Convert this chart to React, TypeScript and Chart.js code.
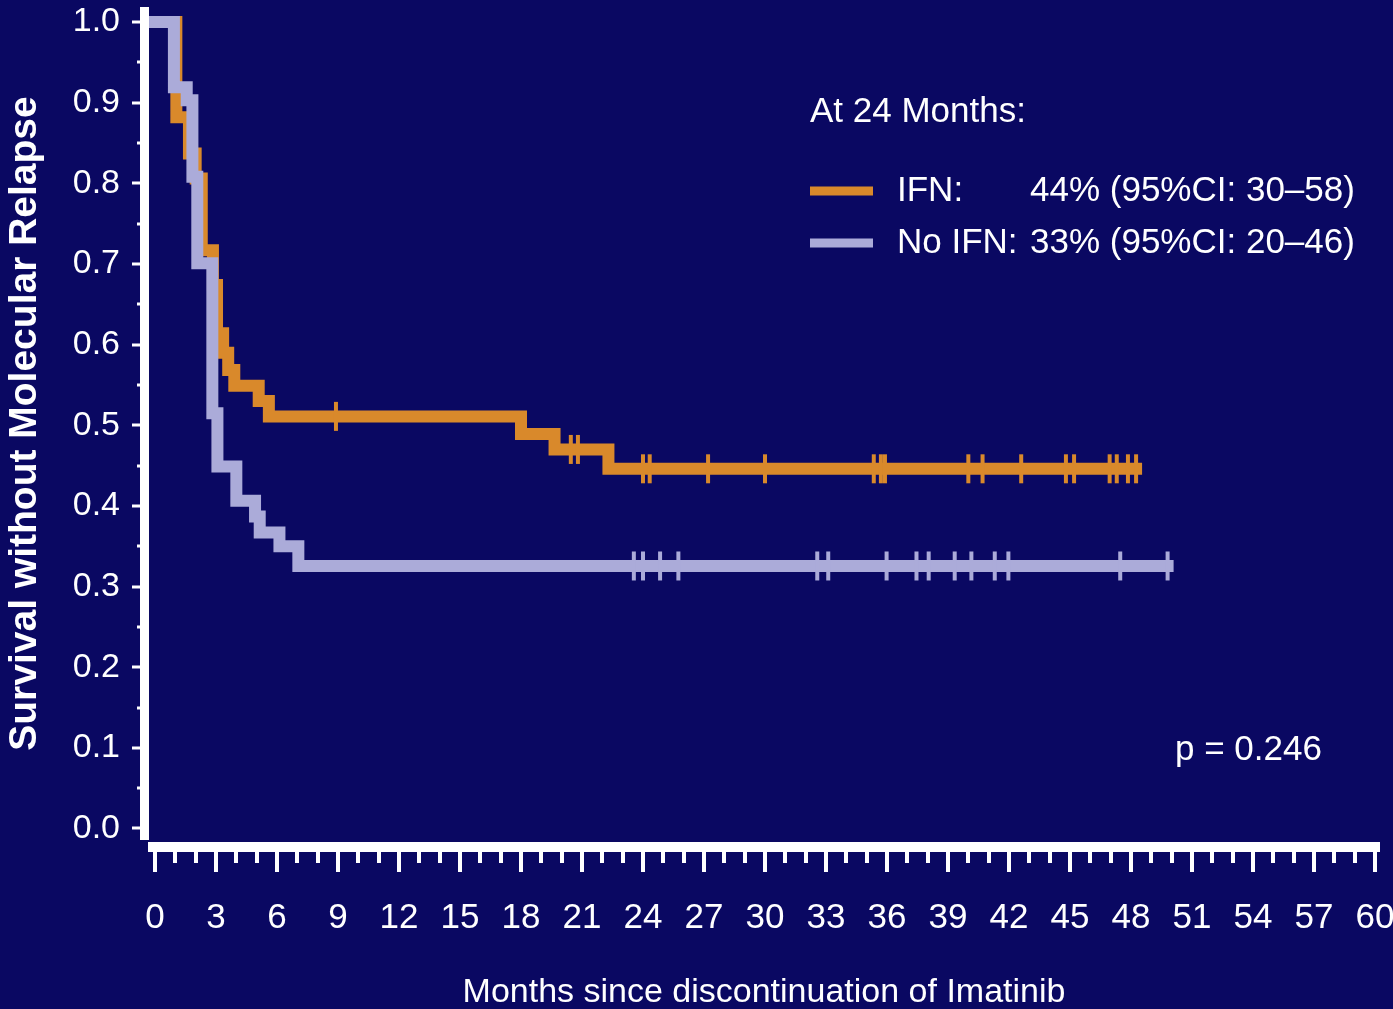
import React, { useEffect, useRef } from 'react';
import { Chart, registerables } from 'chart.js';

Chart.register(...registerables);

// ---- Data (months, survival probability) ----
const ifnTimes = [0, 1.05, 1.67, 2.0, 2.3, 2.85, 3.05, 3.35, 3.6, 3.9, 5.1, 5.6, 18.0, 19.65, 22.3, 48.25];
const ifnSurv = [1.0, 0.882, 0.837, 0.806, 0.717, 0.674, 0.614, 0.59, 0.5685, 0.549, 0.53, 0.511, 0.489, 0.47, 0.446, 0.446];
const ifnCensored = [8.9, 20.45, 20.8, 24.0, 24.33, 27.2, 30.0, 35.35, 35.7, 35.9, 40.0, 40.7, 42.6, 44.8, 45.2, 46.95, 47.3, 47.85, 48.25];

const noIfnTimes = [0, 0.93, 1.56, 1.84, 2.08, 2.82, 3.07, 4.0, 4.92, 5.15, 6.12, 7.05, 49.8];
const noIfnSurv = [1.0, 0.919, 0.903, 0.808, 0.701, 0.515, 0.449, 0.4065, 0.387, 0.367, 0.35, 0.3255, 0.3255];
const noIfnCensored = [23.55, 24.0, 24.84, 25.74, 32.57, 33.11, 35.98, 37.45, 38.05, 39.33, 40.15, 41.3, 41.97, 47.47, 49.8];

const xTicks = [0, 3, 6, 9, 12, 15, 18, 21, 24, 27, 30, 33, 36, 39, 42, 45, 48, 51, 54, 57, 60];
const yTicks = [0.0, 0.1, 0.2, 0.3, 0.4, 0.5, 0.6, 0.7, 0.8, 0.9, 1.0];

const xTitle = 'Months since discontinuation of Imatinib';
const yTitle = 'Survival without Molecular Relapse';
const legendTitle = 'At 24 Months:';
const legendLabels = ['IFN:', 'No IFN:'];
const legendValues = ['44% (95%CI: 30\u201358)', '33% (95%CI: 20\u201346)'];
const pValueText = 'p = 0.246';

// ---- Style ----
const BG = '#0a0862';
const ORANGE = '#d9892b';
const LAVENDER = '#ababd9';
const WHITE = '#ffffff';
const FONT = "'Liberation Sans', Arial, Helvetica, sans-serif";

const X_MIN = -0.3443;
const X_MAX = 60.246;
const Y_MIN = -0.01426;
const Y_MAX = 1.0186;

function kmAt(times: number[], surv: number[], t: number): number {
  let v = surv[0];
  for (let i = 0; i < times.length; i++) {
    if (times[i] <= t) v = surv[i];
  }
  return v;
}

const decorPlugin = {
  id: 'decor',
  beforeDraw(chart: any) {
    const { ctx } = chart;
    ctx.save();
    ctx.fillStyle = BG;
    ctx.fillRect(0, 0, chart.width, chart.height);
    ctx.restore();
  },
  afterDraw(chart: any) {
    const { ctx, chartArea } = chart;
    const xs = chart.scales.x;
    const ys = chart.scales.y;
    ctx.save();
    ctx.fillStyle = WHITE;
    // y axis line
    const yAxisRight = chartArea.left + 1;
    ctx.fillRect(yAxisRight - 9, chartArea.top, 9, chartArea.bottom - chartArea.top);
    // y ticks (major 0.1, minor 0.05)
    for (let k = 0; k <= 20; k++) {
      const v = k * 0.05;
      const py = Math.round(ys.getPixelForValue(v));
      const len = k % 2 === 0 ? 8 : 3;
      ctx.fillRect(yAxisRight - 9 - len, py - 1.5, len, 3);
    }
    // x axis line
    const xTop = chartArea.bottom + 2;
    ctx.fillRect(chartArea.left, xTop, chartArea.right - chartArea.left, 10);
    // x ticks (major every 3, minor every month)
    for (let m = 0; m <= 60; m++) {
      const px = Math.round(xs.getPixelForValue(m));
      const len = m % 3 === 0 ? 20 : 11;
      ctx.fillRect(px - 2, xTop + 10, 4, len);
    }

    // legend
    ctx.font = `35px ${FONT}`;
    ctx.textBaseline = 'middle';
    ctx.textAlign = 'left';
    ctx.fillStyle = WHITE;
    ctx.fillText(legendTitle, 810, 112);
    const colors = [ORANGE, LAVENDER];
    const rowsY = [191, 243];
    for (let i = 0; i < legendLabels.length; i++) {
      ctx.fillStyle = colors[i];
      ctx.fillRect(810, rowsY[i] - 4.5, 63, 9);
      ctx.fillStyle = WHITE;
      ctx.fillText(legendLabels[i], 897, rowsY[i]);
      ctx.fillText(legendValues[i], 1030, rowsY[i]);
    }
    // p value
    ctx.fillText(pValueText, 1175, 750);
    ctx.restore();
  },
};

export default function App() {
  const ref = useRef<HTMLCanvasElement>(null);

  useEffect(() => {
    document.body.style.margin = '0';
    const canvas = ref.current;
    if (!canvas) return;

    const ifnLine = ifnTimes.map((t, i) => ({ x: t, y: ifnSurv[i] }));
    const noIfnLine = noIfnTimes.map((t, i) => ({ x: t, y: noIfnSurv[i] }));
    const ifnCens = ifnCensored.map((t) => ({ x: t, y: kmAt(ifnTimes, ifnSurv, t) }));
    const noIfnCens = noIfnCensored.map((t) => ({ x: t, y: kmAt(noIfnTimes, noIfnSurv, t) }));

    const chart = new Chart(canvas, {
      type: 'line',
      data: {
        datasets: [
          {
            label: 'No IFN',
            data: noIfnLine,
            borderColor: LAVENDER,
            backgroundColor: LAVENDER,
            borderWidth: 12,
            stepped: true,
            pointRadius: 0,
            borderCapStyle: 'square',
            borderJoinStyle: 'miter',
            fill: false,
            order: 1,
          } as any,
          {
            label: 'No IFN censored',
            data: noIfnCens,
            showLine: false,
            pointStyle: 'line',
            pointRadius: 14.5,
            pointRotation: 90,
            pointBorderWidth: 4,
            pointBorderColor: LAVENDER,
            pointBackgroundColor: LAVENDER,
            order: 0,
          } as any,
          {
            label: 'IFN',
            data: ifnLine,
            borderColor: ORANGE,
            backgroundColor: ORANGE,
            borderWidth: 12,
            stepped: true,
            pointRadius: 0,
            borderCapStyle: 'square',
            borderJoinStyle: 'miter',
            fill: false,
            order: 3,
          } as any,
          {
            label: 'IFN censored',
            data: ifnCens,
            showLine: false,
            pointStyle: 'line',
            pointRadius: 14.5,
            pointRotation: 90,
            pointBorderWidth: 4,
            pointBorderColor: ORANGE,
            pointBackgroundColor: ORANGE,
            order: 2,
          } as any,
        ],
      },
      options: {
        animation: false,
        responsive: false,
        devicePixelRatio: 1,
        events: [],
        layout: { autoPadding: false, padding: { top: 7, right: 13, left: 0, bottom: 0 } },
        plugins: {
          legend: { display: false },
          tooltip: { enabled: false },
          title: { display: false },
        },
        scales: {
          x: {
            type: 'linear',
            min: X_MIN,
            max: X_MAX,
            afterBuildTicks: (s: any) => {
              s.ticks = xTicks.map((v) => ({ value: v }));
            },
            afterFit: (s: any) => {
              s.height = 169;
              s.paddingLeft = 0;
              s.paddingRight = 0;
              s.paddingTop = 0;
              s.paddingBottom = 0;
            },
            grid: { display: false },
            border: { display: false },
            ticks: {
              color: WHITE,
              font: { family: FONT, size: 35 },
              padding: 49,
              autoSkip: false,
              maxRotation: 0,
              callback: (v: any) => String(v),
            },
            title: {
              display: true,
              text: xTitle,
              color: WHITE,
              font: { family: FONT, size: 34, lineHeight: 1 },
              padding: { top: 0, bottom: -1 },
            },
          },
          y: {
            type: 'linear',
            min: Y_MIN,
            max: Y_MAX,
            afterBuildTicks: (s: any) => {
              s.ticks = yTicks.map((v) => ({ value: v }));
            },
            afterFit: (s: any) => {
              s.width = 148;
              s.paddingLeft = 0;
              s.paddingRight = 0;
              s.paddingTop = 0;
              s.paddingBottom = 0;
            },
            grid: { display: false },
            border: { display: false },
            ticks: {
              color: WHITE,
              font: { family: FONT, size: 34 },
              padding: 20,
              callback: (v: any) => Number(v).toFixed(1),
            },
            title: {
              display: true,
              text: yTitle,
              color: WHITE,
              font: { family: FONT, size: 39, weight: 'bold' },
              padding: { top: 2, bottom: 0 },
            },
          },
        },
      } as any,
      plugins: [decorPlugin],
    });

    return () => chart.destroy();
  }, []);

  return (
    <div style={{ position: 'fixed', left: 0, top: 0, width: 1393, height: 1009, background: BG }}>
      <canvas ref={ref} width={1393} height={1009} style={{ display: 'block', width: 1393, height: 1009 }} />
    </div>
  );
}
